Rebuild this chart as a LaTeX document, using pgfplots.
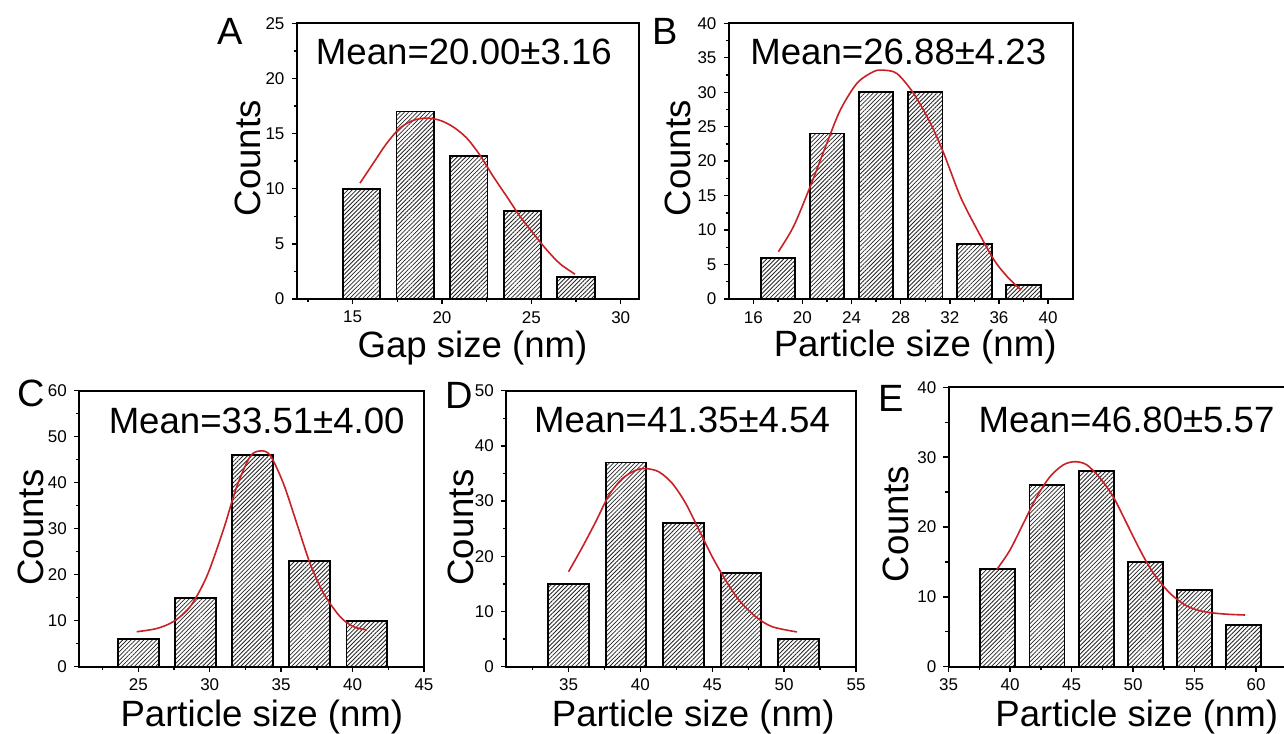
\documentclass[border=0pt]{standalone}
\usepackage{fontspec}
\setmainfont{Liberation Sans}
\usepackage{pgfplots}
\pgfplotsset{compat=1.18}
\usetikzlibrary{patterns.meta}

\definecolor{fitred}{RGB}{200,32,36}

\pgfplotsset{
  hist/.style={
    scale only axis,
    axis line style={line width=0.9pt},
    tick align=outside,
    tick pos=left,
    major tick length=2.6pt,
    minor tick length=1.6pt,
    every tick/.style={black, line width=0.7pt},
    tick label style={font=\fontsize{8.5}{10}\selectfont},
    /pgf/number format/assume math mode=true,
    label style={font=\fontsize{18.3}{20}\selectfont},
    ymin=0,
  },
  bars/.style={ybar, bar width=#1, bar shift=0pt, draw=black, line width=0.9pt,
    pattern={Lines[angle=45,distance=1.5pt,line width=0.4pt]}, pattern color=black!85},
  gfit/.style={fitred, line width=0.8pt, smooth, no marks},
}
\tikzset{meanlbl/.style={font=\fontsize{18.3}{20}\selectfont, anchor=base}}

\begin{document}
\begin{tikzpicture}
\useasboundingbox (0,0) rectangle (642pt,366.5pt);

% ---- A ----
\begin{axis}[hist, at={(148.35pt,217pt)}, anchor=south west,
  width=171.3pt, height=137.85pt,
  xmin=11.87, xmax=31.04, ymax=25,
  xtick={15,20,25,30}, minor xtick={12.5,17.5,22.5,27.5},
  ytick={0,5,...,25}, minor ytick={2.5,7.5,...,22.5},
  xlabel={Gap size (nm)}, ylabel={Counts},
  xlabel style={at={(axis description cs:0.513,-0.214)}, anchor=base},
  ylabel style={at={(axis description cs:-0.107,0.510)}, anchor=base},
]
\addplot[bars=2.1] coordinates {(15.5,10) (18.5,17) (21.5,13) (24.5,8) (27.5,2)};
\addplot[gfit] coordinates {
  (15.41,10.5) (16.15,12.3) (16.9,14.1) (17.65,15.5) (18.39,16.2) (19.14,16.4)
  (19.89,16.2) (20.63,15.6) (21.38,14.6) (22.12,13.05) (22.87,11.1) (23.62,9.3)
  (24.36,7.5) (25.11,5.95) (25.86,4.45) (26.6,3.2) (27.44,2.25)};
\node[meanlbl] at (axis description cs:0.488,0.849) {Mean=20.00±3.16};
\end{axis}

% ---- B ----
\begin{axis}[hist, at={(364.35pt,217pt)}, anchor=south west,
  width=172pt, height=137.85pt,
  xmin=14, xmax=42, ymax=40,
  xtick={16,20,...,40}, minor xtick={18,22,...,38},
  ytick={0,5,...,40}, minor ytick={2.5,7.5,...,37.5},
  xlabel={Particle size (nm)}, ylabel={Counts},
  xlabel style={at={(axis description cs:0.542,-0.209)}, anchor=base},
  ylabel style={at={(axis description cs:-0.1125,0.510)}, anchor=base},
]
\addplot[bars=2.8] coordinates {(18,6) (22,24) (26,30) (30,30) (34,8) (38,2)};
\addplot[gfit] coordinates {
  (18.04,6.86) (19.27,10.5) (20.63,16.3) (21.99,22.6) (23.08,27.4) (24.44,31.3)
  (25.8,33.0) (26.6,33.2) (27.7,32.7) (29.06,29.8) (30.42,25.5) (31.51,21.1)
  (32.87,14.8) (34.24,10.0) (35.6,5.66) (36.69,3.2) (37.8,1.3)};
\node[meanlbl] at (axis description cs:0.493,0.849) {Mean=26.88±4.23};
\end{axis}

% ---- C ----
\begin{axis}[hist, at={(39.5pt,33.15pt)}, anchor=south west,
  width=172.5pt, height=138pt,
  xmin=20.85, xmax=45, ymax=60,
  xtick={25,30,...,45}, minor xtick={22.5,27.5,...,42.5},
  ytick={0,10,...,60}, minor ytick={5,15,...,55},
  xlabel={Particle size (nm)}, ylabel={Counts},
  xlabel style={at={(axis description cs:0.530,-0.217)}, anchor=base},
  ylabel style={at={(axis description cs:-0.1035,0.504)}, anchor=base},
]
\addplot[bars=2.85] coordinates {(25,6) (29,15) (33,46) (37,23) (41,10)};
\addplot[gfit] coordinates {
  (24.89,7.6) (26.29,8.3) (27.45,9.8) (28.62,13.0) (29.79,19.6) (30.95,29.7)
  (31.89,39.1) (32.82,45.65) (33.52,46.9) (34.22,46.0) (35.15,39.9) (36.09,31.2)
  (37.02,22.5) (37.96,16.0) (39.12,10.9) (40.06,8.7) (41.0,8.0)};
\node[meanlbl] at (axis description cs:0.515,0.846) {Mean=33.51±4.00};
\end{axis}

% ---- D ----
\begin{axis}[hist, at={(253pt,33.15pt)}, anchor=south west,
  width=175pt, height=138pt,
  xmin=30.65, xmax=55, ymax=50,
  xtick={35,40,...,55}, minor xtick={32.5,37.5,...,52.5},
  ytick={0,10,...,50}, minor ytick={5,15,...,45},
  xlabel={Particle size (nm)}, ylabel={Counts},
  xlabel style={at={(axis description cs:0.535,-0.217)}, anchor=base},
  ylabel style={at={(axis description cs:-0.0934,0.504)}, anchor=base},
]
\addplot[bars=2.82] coordinates {(35,15) (39,37) (43,26) (47,17) (51,5)};
\addplot[gfit] coordinates {
  (35.0,17.2) (35.97,21.7) (36.9,26.3) (37.82,31.1) (38.75,34.1) (39.68,35.6)
  (40.37,35.9) (41.29,35.3) (42.22,33.2) (43.15,29.6) (44.07,24.8) (45.0,19.9)
  (45.92,15.7) (46.85,12.1) (48.0,9.1) (49.16,7.25) (50.89,6.3)};
\node[meanlbl] at (axis description cs:0.503,0.847) {Mean=41.35±4.54};
\end{axis}

% ---- E ----
\begin{axis}[hist, at={(474.3pt,33.15pt)}, anchor=south west,
  width=169.15pt, height=139.7pt,
  xmin=35, xmax=62.5, ymax=40,
  xtick={35,40,...,60}, minor xtick={37.5,42.5,...,62.5},
  ytick={0,10,...,40}, minor ytick={5,15,...,35},
  xlabel={Particle size (nm)}, ylabel={Counts},
  xlabel style={at={(axis description cs:0.556,-0.215)}, anchor=base},
  ylabel style={at={(axis description cs:-0.119,0.510)}, anchor=base},
]
\addplot[bars=2.85] coordinates {(39,14) (43,26) (47,28) (51,15) (55,11) (59,6)};
\addplot[gfit] coordinates {
  (38.91,13.9) (39.99,16.7) (41.07,20.5) (42.16,24.3) (43.24,27.2) (44.33,28.9)
  (45.28,29.35) (46.23,28.9) (47.31,27.0) (48.39,24.3) (49.48,20.5) (50.56,16.7)
  (51.64,13.4) (53.0,10.5) (54.36,8.7) (55.71,7.9) (57.33,7.55) (59.1,7.4)};
\node[meanlbl] at (axis description cs:0.526,0.839) {Mean=46.80±5.57};
\end{axis}

% panel letters
\begin{scope}[every node/.style={font=\fontsize{19}{21}\selectfont, anchor=base west, inner sep=0pt}]
\node at (108.35pt,344pt) {A};
\node at (325.85pt,344pt) {B};
\node at (8.35pt,163.15pt) {C};
\node at (222.5pt,162.35pt) {D};
\node at (439.15pt,160.65pt) {E};
\end{scope}
\end{tikzpicture}
\end{document}
